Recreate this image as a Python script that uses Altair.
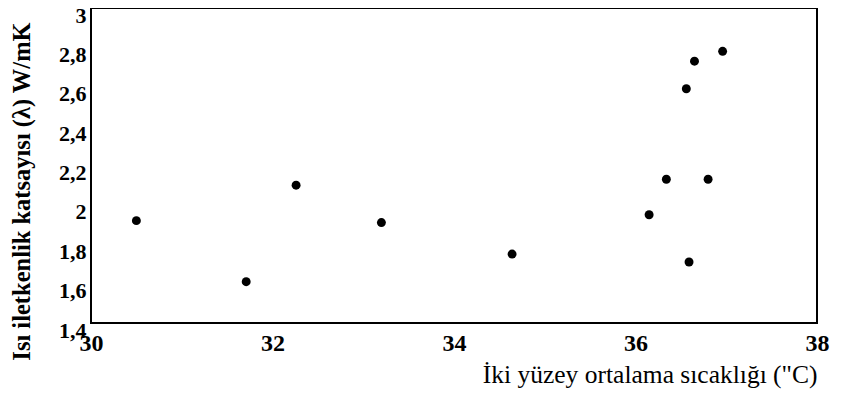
import altair as alt
import pandas as pd

temps = [30.50, 31.71, 32.26, 33.20, 34.64, 36.96, 36.65, 36.56, 36.34, 36.80, 36.15, 36.59]
lambdas = [1.92, 1.61, 2.10, 1.91, 1.75, 2.78, 2.73, 2.59, 2.13, 2.13, 1.95, 1.71]
x_ticks = [30, 32, 34, 36, 38]
y_ticks = [1.4, 1.6, 1.8, 2.0, 2.2, 2.4, 2.6, 2.8, 3.0]

df = pd.DataFrame({"t": temps, "k": lambdas})

W, H = 726, 315

points = alt.Chart(df).mark_circle(size=80, color="black", opacity=1).encode(
    x=alt.X("t:Q",
            scale=alt.Scale(domain=[30, 38], nice=False, zero=False),
            axis=alt.Axis(
                values=x_ticks, title="İki yüzey ortalama sıcaklığı (\"C)",
                grid=False, domain=False, ticks=False,
                labelFont="Liberation Serif", labelFontSize=24, labelFontWeight="bold",
                labelColor="black", labelPadding=8, labelFlush=False,
                titleFont="Liberation Serif", titleFontSize=25.5, titleFontWeight="normal",
                titleColor="black", titleX=W, titleY=59, titleAlign="right",
                titleBaseline="alphabetic", titleAnchor="end")),
    y=alt.Y("k:Q",
            scale=alt.Scale(domain=[1.4, 3.0], nice=False, zero=False),
            axis=alt.Axis(
                values=y_ticks, title="Isı iletkenlik katsayısı (λ) W/mK",
                grid=False, domain=False, ticks=False,
                labelExpr="replace(format(datum.value, '.2~f'), '.', ',')",
                labelFont="Liberation Serif", labelFontSize=22, labelFontWeight="bold",
                labelColor="black", labelPadding=5, labelOffset=7, labelFlush=False,
                titleFont="Liberation Serif", titleFontSize=24.5, titleFontWeight="bold",
                titleColor="black", titleX=-57, titleY=183, titleAngle=270,
                titleAlign="center", titleBaseline="bottom")),
)

frame = alt.Chart(pd.DataFrame({"a": [0]})).mark_rect(
    fill=None, stroke="black", strokeWidth=2
).encode(
    x=alt.value(0), x2=alt.value(W), y=alt.value(0), y2=alt.value(H)
)

chart = alt.layer(frame, points).properties(
    width=W, height=H,
    autosize=alt.AutoSizeParams(type="none"),
    padding={"left": 83, "top": 0, "right": 18, "bottom": 66},
).configure(background="white").configure_view(stroke=None)

chart.save("out.html", embed_options={"renderer": "svg", "actions": False})
